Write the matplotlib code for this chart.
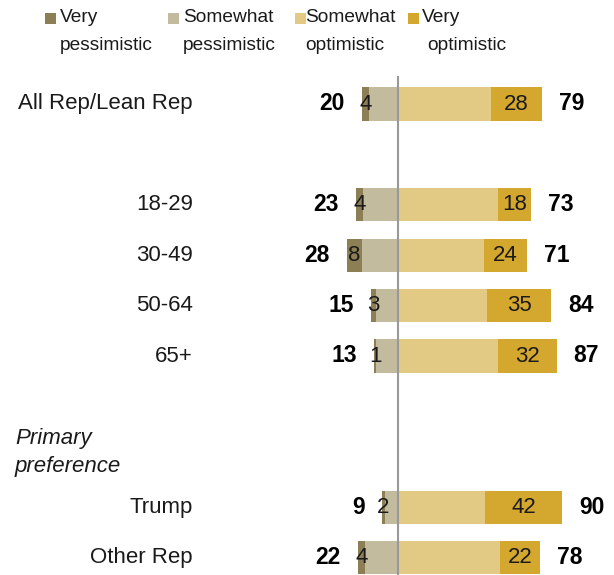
import numpy as np
import matplotlib.pyplot as plt
from matplotlib.patches import Rectangle

plt.rcParams['font.family'] = ['Liberation Sans', 'DejaVu Sans']

# survey data (percent)
categories = ["All Rep/Lean Rep", "18-29", "30-49", "50-64", "65+", "Trump", "Other Rep"]
rows = [0, 2, 3, 4, 5, 8, 9]
very_pess = [4, 4, 8, 3, 1, 2, 4]
some_pess = [16, 19, 20, 12, 12, 7, 18]
some_opt = [51, 55, 47, 49, 55, 48, 56]
very_opt = [28, 18, 24, 35, 32, 42, 22]
net_pess = [20, 23, 28, 15, 13, 9, 22]
net_opt = [79, 73, 71, 84, 87, 90, 78]

legend_labels = ["Very\npessimistic", "Somewhat\npessimistic", "Somewhat\noptimistic", "Very\noptimistic"]
colors = ["#8c7f55", "#c3bb9e", "#e2ca85", "#d4a72f"]

W, H = 614, 575
fig = plt.figure(figsize=(W / 100, H / 100), dpi=100)
ax = fig.add_axes([0, 0, 1, 1])

# pixel <-> data mapping: x = 398 + 1.822*v, y = 104 + 50.4*r
px_per_unit = 1.822
x0 = 398
row_h = 50.4
y0 = 104
ax.set_xlim(-x0 / px_per_unit, (W - x0) / px_per_unit)
ax.set_ylim((H - y0) / row_h, -y0 / row_h)
ax.axis('off')

bh = 0.655
fs = 16
for r, vp, sp, so, vo, tp, to in zip(rows, very_pess, some_pess, some_opt, very_opt, net_pess, net_opt):
    ax.barh(r, -sp, left=0, height=bh, color=colors[1], lw=0)
    ax.barh(r, -vp, left=-sp, height=bh, color=colors[0], lw=0)
    ax.barh(r, so, left=0, height=bh, color=colors[2], lw=0)
    ax.barh(r, vo, left=so, height=bh, color=colors[3], lw=0)
    ax.text(-sp - vp / 2, r, str(vp), ha='center', va='center', fontsize=fs, color='#1a1a1a')
    ax.text(so + vo / 2, r, str(vo), ha='center', va='center', fontsize=fs, color='#1a1a1a')
    ax.text(-(vp + sp) - 17 / px_per_unit, r, str(tp), ha='right', va='center',
            fontsize=16.5, fontweight='bold', color='black')
    ax.text(so + vo + 17 / px_per_unit, r, str(to), ha='left', va='center',
            fontsize=16.5, fontweight='bold', color='black')

for r, c in zip(rows, categories):
    ax.text((193 - x0) / px_per_unit, r, c, ha='right', va='center', fontsize=fs, color='#1a1a1a')

ax.text((15 - x0) / px_per_unit, 6.92, "Primary\npreference", ha='left', va='center',
        fontsize=fs, style='italic', color='#1a1a1a', linespacing=1.45)

# center divider
ax.plot([0, 0], [(77 - y0) / row_h, (H - y0) / row_h + 1], color='#999999', lw=1.5)

# legend drawn by hand
sq_x = [45, 168, 295, 408]
top_x = [60, 183, 305, 422]
bot_x = [60, 183, 305, 427]
for sx, tx, bx, lab, col in zip(sq_x, top_x, bot_x, legend_labels, colors):
    fig.patches.append(Rectangle((sx / W, 1 - 24 / H), 11 / W, 11 / H,
                                 transform=fig.transFigure, color=col, lw=0))
    top, bottom = lab.split("\n")
    fig.text(tx / W, 1 - 18 / H, top, ha='left', va='center', fontsize=13.8, color='#1a1a1a')
    fig.text(bx / W, 1 - 45 / H, bottom, ha='left', va='center', fontsize=13.8, color='#1a1a1a')

fig.savefig("out.png", dpi=100)
